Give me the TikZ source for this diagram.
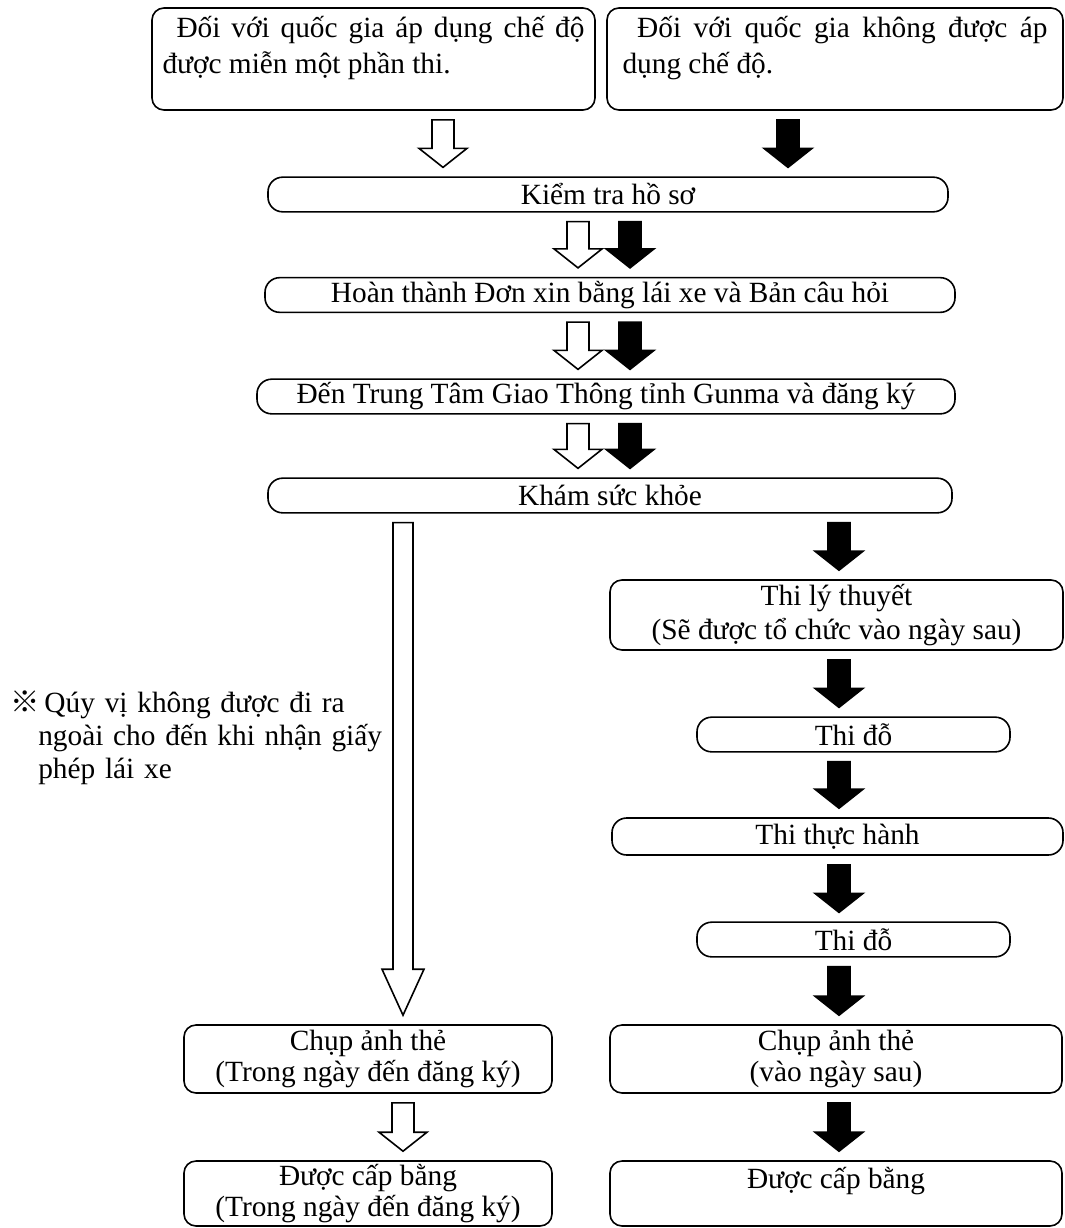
\documentclass[tikz,border=0pt]{standalone}
\usepackage{fontspec}
\setmainfont{Liberation Serif}
\newfontfamily\cjk{Noto Sans CJK JP}
\usetikzlibrary{calc}
\tolerance=9999

\tikzset{
  box/.style={draw, line width=1.2pt, rounded corners=9pt, inner sep=0pt, align=center,
    font=\fontsize{22pt}{25pt}\selectfont},
  tallbox/.style={box, font=\fontsize{22pt}{23pt}\selectfont},
  bar/.style={box, rounded corners=11pt, minimum height=26pt},
  topbox/.style={box, text height=22pt, text depth=54.5pt, text width=#1, align=justify,
    font=\fontsize{22pt}{27pt}\selectfont},
  blockarr/.style n args={3}{to path={let \p1=(\tikztostart), \p2=(\tikztotarget) in
    (\x1-#1,\y1+6.75pt) -- (\x1+#1,\y1+6.75pt) -- (\x1+#1,\y2-6.75pt-#3)
    -- (\x1+#2,\y2-6.75pt-#3) -- (\x1,\y2-6.75pt) -- (\x1-#2,\y2-6.75pt-#3)
    -- (\x1-#1,\y2-6.75pt-#3) -- cycle}},
  whitearr/.style={draw, line width=1.2pt, fill=white, blockarr={8.25pt}{18pt}{14.25pt}},
  whitelong/.style={draw, line width=1.2pt, fill=white, blockarr={7.5pt}{15.75pt}{34.5pt}},
  blackarr/.style={draw, line width=1.2pt, fill=black, blockarr={8.25pt}{18pt}{14.25pt}}
}

\begin{document}
\begin{tikzpicture}[x=0.75pt,y=0.75pt,yscale=-1,xscale=1]
\useasboundingbox (0,0) rectangle (1064,1228);

%Shape: top boxes
\node[topbox=316.5pt, minimum width=332.25pt] (topL) at (373.5,59)
  {\hspace*{10.5pt}Đối với quốc gia áp dụng chế độ\linebreak được miễn một phần thi.};
\node[topbox=318.75pt, minimum width=342pt] (topR) at (835,59)
  {\hspace*{11pt}Đối với quốc gia không được áp\linebreak dụng chế độ.};

%Shape: long bars
\node[bar, minimum width=510pt] (kiem) at (608,194.5) {Kiểm tra hồ sơ};
\node[bar, minimum width=517.5pt] (hoan) at (610,295) {Hoàn thành Đơn xin bằng lái xe và Bản câu hỏi};
\node[bar, minimum width=523.5pt] (den) at (606,396.5) {Đến Trung Tâm Giao Thông tỉnh Gunma và đăng ký};
\node[bar, minimum width=513pt] (kham) at (610,495.5) {Khám sức khỏe};

%Shape: right column
\node[box, minimum width=339.75pt, minimum height=52.5pt] (ly) at (836.5,615)
  {Thi lý thuyết\\(Sẽ được tổ chức vào ngày sau)};
\node[bar, minimum width=234.75pt] (do1) at (853.5,734.5) {Thi đỗ};
\node[bar, minimum width=338.25pt, minimum height=27.75pt] (th) at (837.5,836.5) {Thi thực hành};
\node[bar, minimum width=234.75pt] (do2) at (853.5,939.5) {Thi đỗ};
\node[tallbox, minimum width=339pt, minimum height=51pt] (chupR) at (836,1059)
  {Chụp ảnh thẻ\\(vào ngày sau)};
\node[tallbox, minimum width=339pt, minimum height=48.75pt] (capR) at (836,1193.5)
  {Được cấp bằng\\~};

%Shape: left column
\node[tallbox, minimum width=276pt, minimum height=51pt] (chupL) at (368,1059)
  {Chụp ảnh thẻ\\(Trong ngày đến đăng ký)};
\node[tallbox, minimum width=276pt, minimum height=48.75pt] (capL) at (368,1193.5)
  {Được cấp bằng\\(Trong ngày đến đăng ký)};

% Text Node
\node[anchor=base west, inner sep=0pt, text width=330pt,
  font=\fontsize{22pt}{25pt}\selectfont] (note) at (10,712)
  {\raggedright{\cjk ※}\,Qúy vị không được đi ra\\\hspace*{21pt}ngoài cho đến khi nhận giấy\\\hspace*{21pt}phép lái xe};

%Arrows
\coordinate (xa) at (443,0);
\coordinate (xb) at (788,0);
\coordinate (xp) at (578,0);
\coordinate (xq) at (630,0);
\coordinate (xl) at (403,0);
\coordinate (xr) at (839,0);

\draw[whitearr] (topL.south -| xa) to (kiem.north -| xa);
\draw[blackarr] (topR.south -| xb) to (kiem.north -| xb);
\foreach \a/\b in {kiem/hoan, hoan/den, den/kham}{
  \draw[whitearr] (\a.south -| xp) to (\b.north -| xp);
  \draw[blackarr] (\a.south -| xq) to (\b.north -| xq);
}
\draw[whitelong] (kham.south -| xl) to (chupL.north -| xl);
\draw[whitearr] (chupL.south -| xl) to (capL.north -| xl);
\foreach \a/\b in {kham/ly, ly/do1, do1/th, th/do2, do2/chupR, chupR/capR}
  \draw[blackarr] (\a.south -| xr) to (\b.north -| xr);

\end{tikzpicture}
\end{document}
